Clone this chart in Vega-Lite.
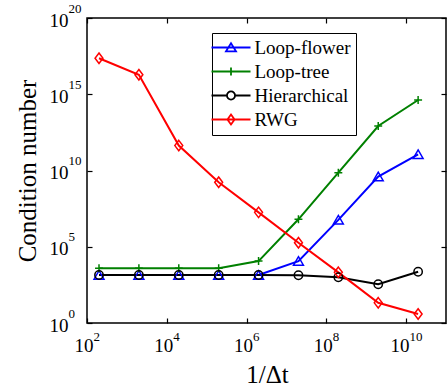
{
  "$schema": "https://vega.github.io/schema/vega-lite/v6.json",
  "width": 359,
  "height": 305,
  "autosize": {"type": "none"},
  "padding": {"left": 87, "top": 18, "right": 1, "bottom": 66},
  "background": "white",
  "config": {
    "font": "Liberation Serif",
    "view": {"stroke": "black", "strokeWidth": 1.5},
    "axis": {"grid": false, "labelFont": "Liberation Serif", "titleFont": "Liberation Serif", "labelColor": "black", "titleColor": "black", "tickColor": "black", "domain": false, "labelFlush": false, "labelOverlap": false, "labelBound": false, "titleFontWeight": "normal"},
    "legend": {"labelFont": "Liberation Serif"}
  },
  "data": {"values": [
    {"method": "Loop-flower", "dt": 2e2, "cond": 1400},
    {"method": "Loop-flower", "dt": 2e3, "cond": 1400},
    {"method": "Loop-flower", "dt": 2e4, "cond": 1400},
    {"method": "Loop-flower", "dt": 2e5, "cond": 1400},
    {"method": "Loop-flower", "dt": 2e6, "cond": 1400},
    {"method": "Loop-flower", "dt": 2e7, "cond": 11500},
    {"method": "Loop-flower", "dt": 2e8, "cond": 5.8e6},
    {"method": "Loop-flower", "dt": 2e9, "cond": 4.0e9},
    {"method": "Loop-flower", "dt": 2e10, "cond": 1.15e11},
    {"method": "Loop-tree", "dt": 2e2, "cond": 3900},
    {"method": "Loop-tree", "dt": 2e3, "cond": 3900},
    {"method": "Loop-tree", "dt": 2e4, "cond": 3900},
    {"method": "Loop-tree", "dt": 2e5, "cond": 3900},
    {"method": "Loop-tree", "dt": 2e6, "cond": 11500},
    {"method": "Loop-tree", "dt": 2e7, "cond": 6.3e6},
    {"method": "Loop-tree", "dt": 2e8, "cond": 7.2e9},
    {"method": "Loop-tree", "dt": 2e9, "cond": 8.3e12},
    {"method": "Loop-tree", "dt": 2e10, "cond": 4.2e14},
    {"method": "Hierarchical", "dt": 2e2, "cond": 1400},
    {"method": "Hierarchical", "dt": 2e3, "cond": 1400},
    {"method": "Hierarchical", "dt": 2e4, "cond": 1400},
    {"method": "Hierarchical", "dt": 2e5, "cond": 1400},
    {"method": "Hierarchical", "dt": 2e6, "cond": 1400},
    {"method": "Hierarchical", "dt": 2e7, "cond": 1350},
    {"method": "Hierarchical", "dt": 2e8, "cond": 1000},
    {"method": "Hierarchical", "dt": 2e9, "cond": 345},
    {"method": "Hierarchical", "dt": 2e10, "cond": 2300},
    {"method": "RWG", "dt": 2e2, "cond": 2.3e17},
    {"method": "RWG", "dt": 2e3, "cond": 1.9e16},
    {"method": "RWG", "dt": 2e4, "cond": 4.3e11},
    {"method": "RWG", "dt": 2e5, "cond": 1.7e9},
    {"method": "RWG", "dt": 2e6, "cond": 1.8e7},
    {"method": "RWG", "dt": 2e7, "cond": 1.85e5},
    {"method": "RWG", "dt": 2e8, "cond": 2100},
    {"method": "RWG", "dt": 2e9, "cond": 21},
    {"method": "RWG", "dt": 2e10, "cond": 3.9}
  ]},
  "layer": [
    {
      "mark": {"type": "line", "strokeWidth": 2},
      "encoding": {
        "x": {"field": "dt", "type": "quantitative", "scale": {"type": "log", "domain": [100, 1e11], "nice": false},
          "axis": {"orient": "bottom", "values": [1e2, 1e4, 1e6, 1e8, 1e10], "labelExpr": "'10'", "labelAlign": "right", "labelBaseline": "top",
            "labelOffset": {"condition": {"test": "datum.value >= 1e10", "value": 3}, "value": 6},
            "labelPadding": 18, "labelFontSize": 19, "ticks": true, "tickSize": -5, "tickWidth": 1.2,
            "title": "1/Δt", "titleFontSize": 25, "titleBaseline": "alphabetic", "titleX": 180, "titleY": 59}},
        "y": {"field": "cond", "type": "quantitative", "scale": {"type": "log", "domain": [1, 1e20], "nice": false},
          "axis": {"orient": "left", "values": [1, 1e5, 1e10, 1e15, 1e20], "labelExpr": "'10'", "labelAlign": "right", "labelBaseline": "middle",
            "labelOffset": 2, "labelPadding": 24, "labelFontSize": 19, "ticks": true, "tickSize": -5, "tickWidth": 1.2,
            "title": "Condition number", "titleFontSize": 25, "titleBaseline": "alphabetic", "titleX": -52, "titleY": 152.5}},
        "color": {"field": "method", "type": "nominal", "scale": {"domain": ["Loop-flower", "Loop-tree", "Hierarchical", "RWG"], "range": ["#0000ff", "#008000", "#000000", "#ff0000"]}, "legend": null}
      }
    },
    {
      "mark": {"type": "point", "filled": false, "strokeWidth": 1.5, "opacity": 1, "size": 121},
      "encoding": {
        "x": {"field": "dt", "type": "quantitative", "scale": {"type": "log", "domain": [100, 1e11], "nice": false},
          "axis": {"orient": "bottom", "values": [1e2, 1e4, 1e6, 1e8, 1e10], "labelExpr": "'' + round(log(datum.value)/LN10)", "labelAlign": "left", "labelBaseline": "top",
            "labelOffset": {"condition": {"test": "datum.value >= 1e10", "value": 3}, "value": 6},
            "labelPadding": 7, "labelFontSize": 13, "ticks": false, "title": null}},
        "y": {"field": "cond", "type": "quantitative", "scale": {"type": "log", "domain": [1, 1e20], "nice": false},
          "axis": {"orient": "left", "values": [1, 1e5, 1e10, 1e15, 1e20], "labelExpr": "'' + round(log(datum.value)/LN10)", "labelAlign": "left", "labelBaseline": "middle",
            "labelOffset": -10, "labelPadding": 19, "labelFontSize": 13, "ticks": false, "title": null}},
        "color": {"field": "method", "type": "nominal", "scale": {"domain": ["Loop-flower", "Loop-tree", "Hierarchical", "RWG"], "range": ["#0000ff", "#008000", "#000000", "#ff0000"]}, "legend": null},
        "shape": {"field": "method", "type": "nominal", "scale": {"domain": ["Loop-flower", "Loop-tree", "Hierarchical", "RWG"], "range": [
          "M0,-0.8L0.9,0.75L-0.9,0.75Z",
          "M-0.72,0H0.72M0,-0.72V0.72",
          "M0.76,0A0.76,0.76 0 1,1 -0.76,0A0.76,0.76 0 1,1 0.76,0Z",
          "M0,-0.95L0.72,0L0,0.95L-0.72,0Z"]}, "legend": null}
      }
    },
    {
      "mark": {"type": "point", "filled": false, "opacity": 0, "size": 169},
      "encoding": {
        "x": {"field": "dt", "type": "quantitative", "scale": {"type": "log", "domain": [100, 1e11], "nice": false},
          "axis": {"orient": "top", "values": [1e2, 1e4, 1e6, 1e8, 1e10], "labels": false, "ticks": true, "tickSize": -5, "tickWidth": 1.2, "title": null}},
        "y": {"field": "cond", "type": "quantitative", "scale": {"type": "log", "domain": [1, 1e20], "nice": false},
          "axis": {"orient": "right", "values": [1, 1e5, 1e10, 1e15, 1e20], "labels": false, "ticks": true, "tickSize": -5, "tickWidth": 1.2, "title": null}},
        "color": {"field": "method", "type": "nominal", "scale": {"domain": ["Loop-flower", "Loop-tree", "Hierarchical", "RWG"], "range": ["#0000ff", "#008000", "#000000", "#ff0000"]},
          "legend": {"orient": "none", "legendX": 125, "legendY": 15, "title": null, "strokeColor": "black", "fillColor": "white", "padding": 5,
            "symbolSize": 169, "symbolStrokeWidth": 1.8, "symbolOpacity": 1, "symbolFillColor": "transparent", "symbolOffset": 4.5, "labelOffset": 14,
            "labelFont": "Liberation Serif", "labelFontSize": 19, "labelColor": "black", "rowPadding": 4, "labelLimit": 300}},
        "shape": {"field": "method", "type": "nominal", "scale": {"domain": ["Loop-flower", "Loop-tree", "Hierarchical", "RWG"], "range": [
          "M-3,0H3M0,-0.65L0.77,0.6L-0.77,0.6Z",
          "M-3,0H3M0,-0.6V0.6",
          "M-3,0H-0.62M0.62,0H3M0.62,0A0.62,0.62 0 1,1 -0.62,0A0.62,0.62 0 1,1 0.62,0Z",
          "M-3,0H3M0,-0.77L0.55,0L0,0.77L-0.55,0Z"]},
          "legend": {"orient": "none", "legendX": 125, "legendY": 15, "title": null, "strokeColor": "black", "fillColor": "white", "padding": 5,
            "symbolSize": 169, "symbolStrokeWidth": 1.8, "symbolOpacity": 1, "symbolFillColor": "transparent", "symbolOffset": 4.5, "labelOffset": 14,
            "labelFont": "Liberation Serif", "labelFontSize": 19, "labelColor": "black", "rowPadding": 4, "labelLimit": 300}}
      }
    }
  ],
  "resolve": {"scale": {"color": "independent", "shape": "independent"}, "axis": {"x": "independent", "y": "independent"}}
}
